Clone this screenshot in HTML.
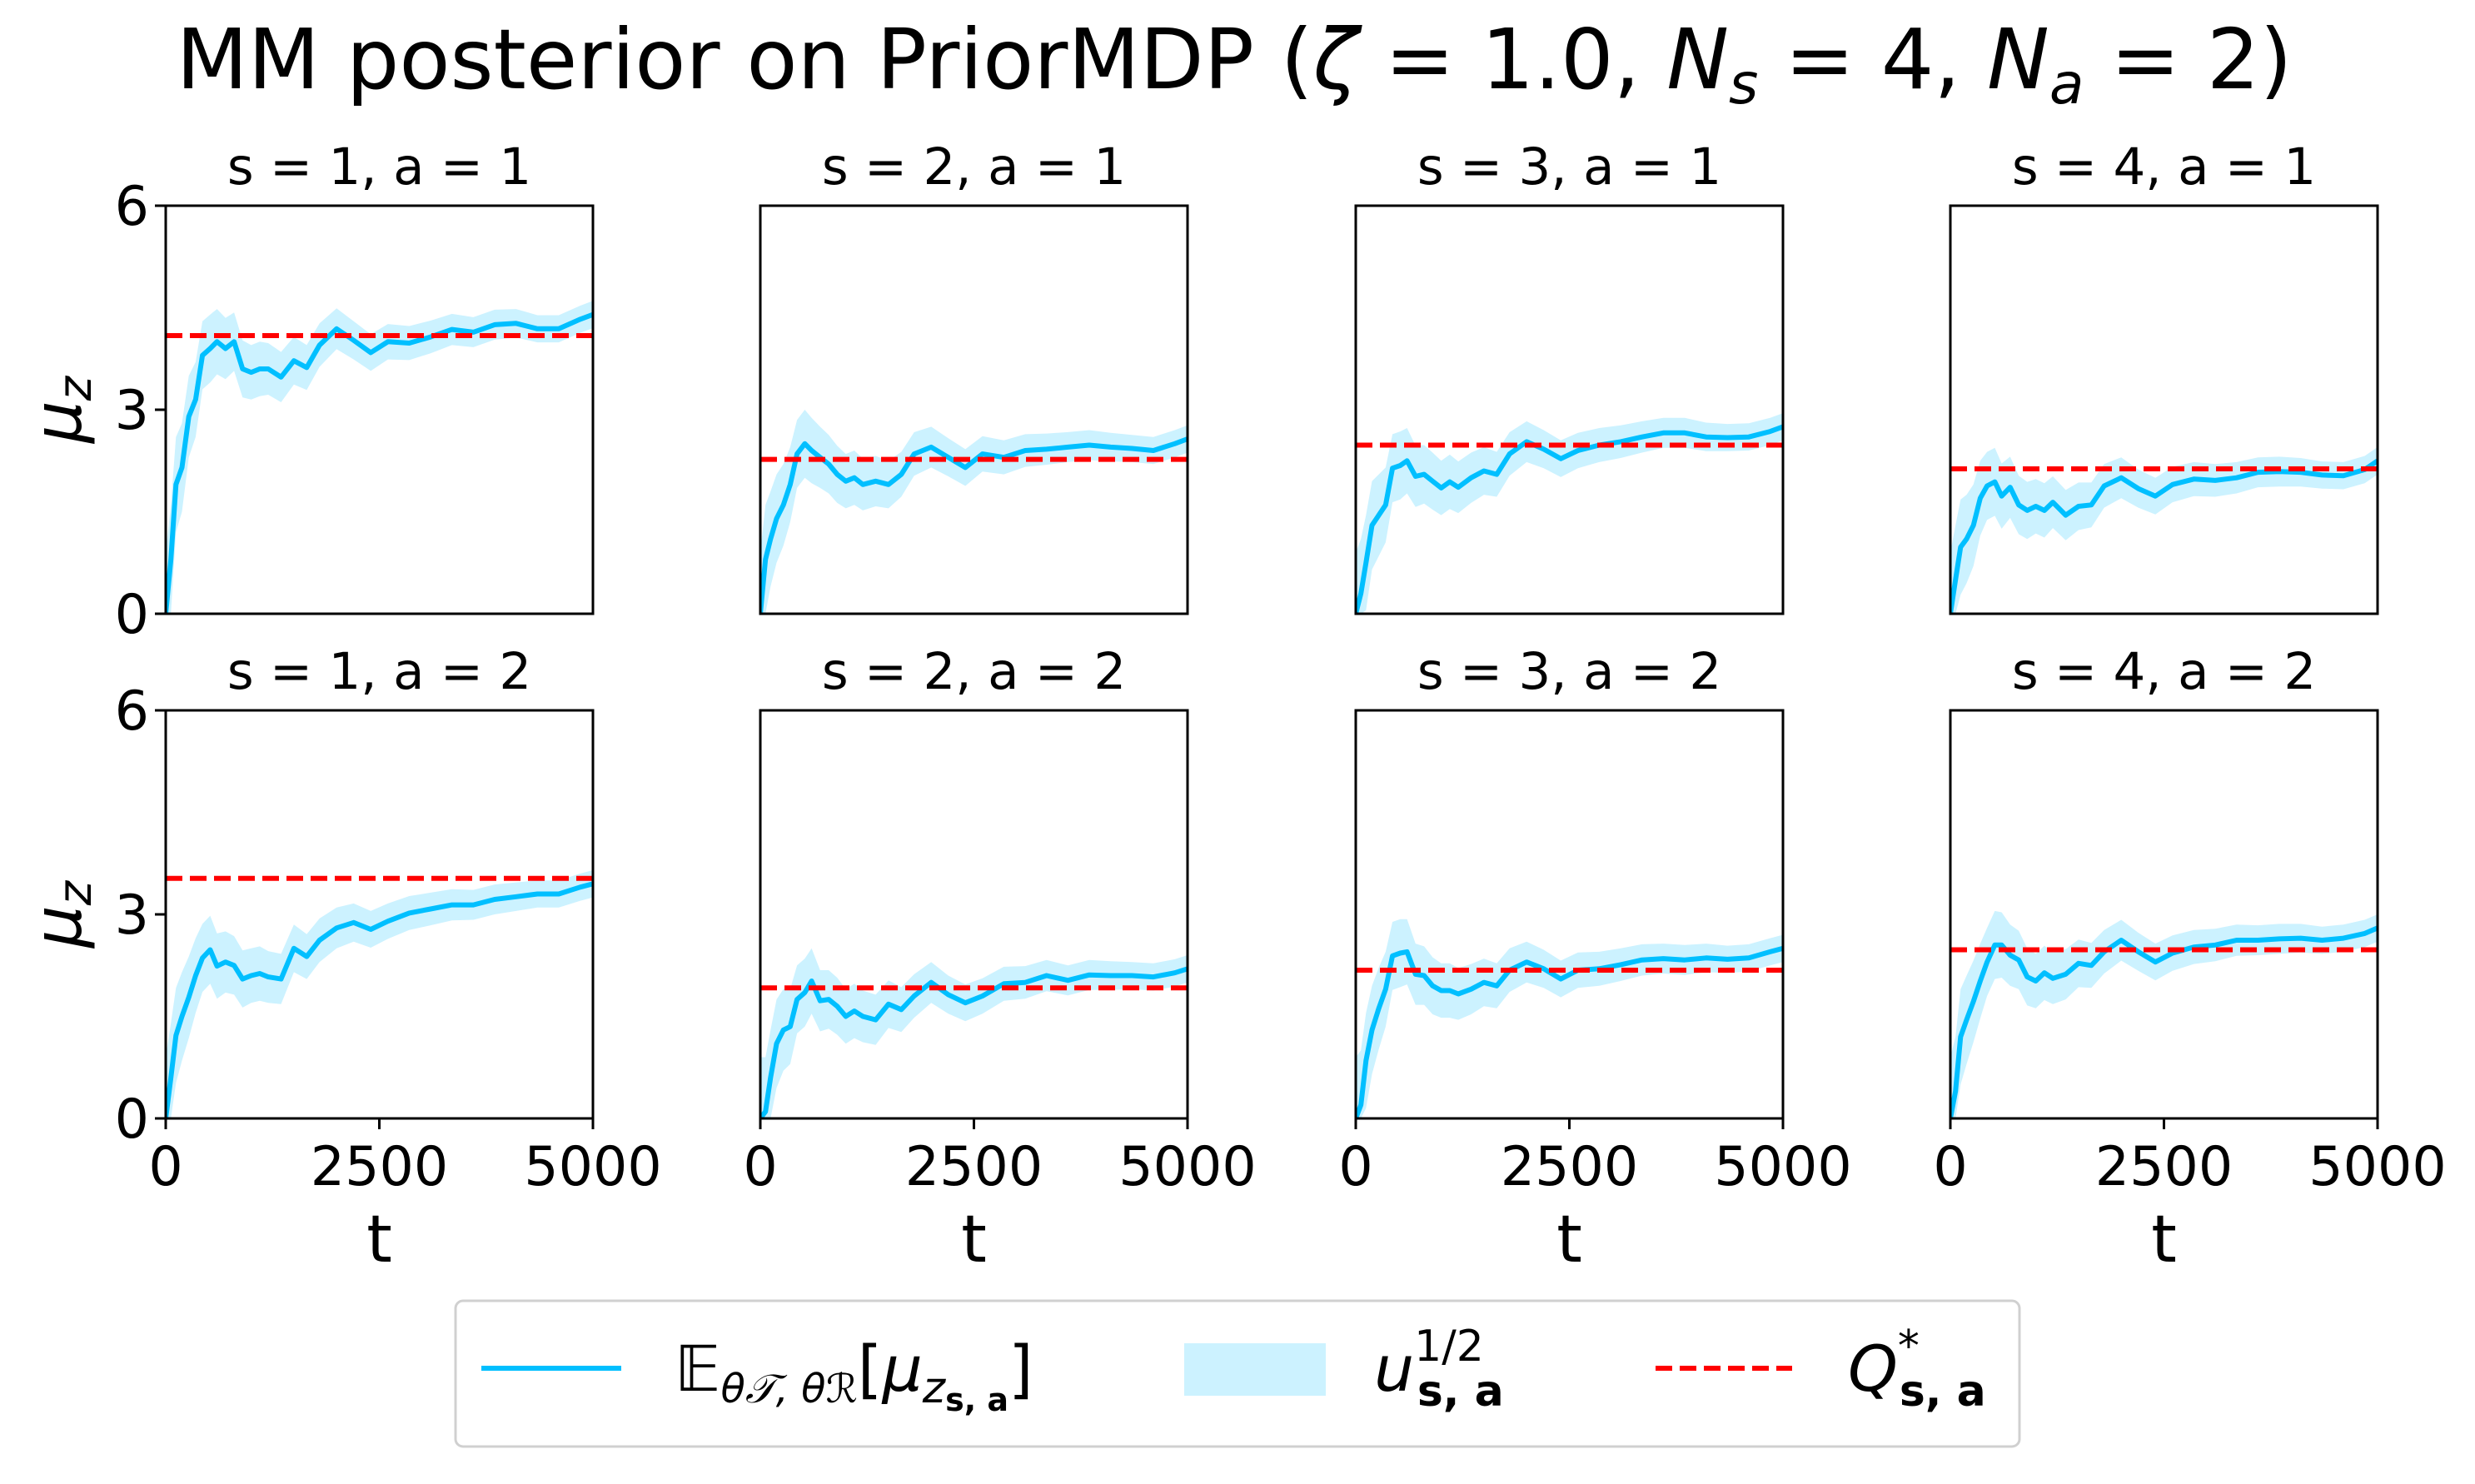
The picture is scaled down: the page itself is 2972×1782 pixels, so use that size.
<!DOCTYPE html>
<html><head><meta charset="utf-8"><style>
html,body{margin:0;padding:0;background:#fff;}
svg{display:block;font-family:"DejaVu Sans","Liberation Sans",sans-serif;}
</style></head><body>
<svg id="fig" width="2972" height="1782" viewBox="0 0 2972 1782" xmlns="http://www.w3.org/2000/svg">
<text x="1482" y="106" font-size="100" text-anchor="middle">MM posterior on PriorMDP (<tspan font-style="italic">ζ</tspan> = 1.0, <tspan font-style="italic">N</tspan><tspan font-size="68" font-style="italic" dy="18">s</tspan><tspan dy="-18"> = 4, </tspan><tspan font-style="italic">N</tspan><tspan font-size="68" font-style="italic" dy="18">a</tspan><tspan dy="-18"> = 2)</tspan></text>
<g id="panels"></g>
<g>
<rect x="547" y="1562" width="1878" height="175" rx="9" fill="#fff" stroke="#d0d0d0" stroke-width="3"/>
<line x1="578" y1="1643" x2="746" y2="1643" stroke="#00bfff" stroke-width="6"/>
<text x="810" y="1670" font-size="76" font-style="italic">𝔼<tspan font-size="48" dy="14">θ𝒯, θℛ</tspan><tspan dy="-14" font-style="normal">[</tspan>μ<tspan font-size="52" dy="14">z</tspan><tspan font-size="38" dy="10" font-weight="bold" font-style="normal">s, a</tspan><tspan dy="-24" font-style="normal">]</tspan></text>
<rect x="1422" y="1613" width="170" height="63" fill="#ccf2ff"/>
<text x="1650" y="1670" font-size="76" font-style="italic">u<tspan font-size="52" dy="-36" font-style="normal">1/2</tspan><tspan font-size="52" dx="-80" dy="54" font-weight="bold" font-style="normal">s, a</tspan></text>
<line x1="1988" y1="1643" x2="2152" y2="1643" stroke="#ff0000" stroke-width="6" stroke-dasharray="20,9"/>
<text x="2219" y="1670" font-size="76" font-style="italic">Q<tspan font-size="52" dy="-36" font-style="normal">*</tspan><tspan font-size="52" dx="-24" dy="54" font-weight="bold" font-style="normal">s, a</tspan></text>
</g>
</svg>
<script>
const tGrid = [0,60,120,190,270,350,430,520,600,700,800,900,1000,1100,1200,1350,1500,1650,1800,2000,2200,2400,2600,2850,3100,3350,3600,3850,4100,4350,4600,4850,5000];
const bandHalfWidth = [0.9,0.8,0.7,0.65,0.6,0.55,0.5,0.5,0.48,0.45,0.43,0.42,0.4,0.4,0.38,0.37,0.35,0.33,0.32,0.3,0.28,0.27,0.26,0.25,0.24,0.23,0.22,0.22,0.21,0.2,0.2,0.2,0.2];
const mean_s1_a1 = [0,0.8,1.9,2.15,2.9,3.15,3.8,3.9,4.0,3.9,4.0,3.6,3.55,3.6,3.6,3.48,3.72,3.62,3.95,4.19,4.02,3.84,4.0,3.98,4.07,4.18,4.14,4.25,4.27,4.19,4.19,4.33,4.4];
const mean_s2_a1 = [0,0.8,1.1,1.4,1.6,1.9,2.35,2.5,2.4,2.3,2.2,2.05,1.95,2.0,1.9,1.95,1.9,2.05,2.35,2.45,2.3,2.15,2.35,2.3,2.4,2.42,2.45,2.48,2.45,2.43,2.4,2.5,2.57];
const mean_s3_a1 = [0,0.3,0.75,1.3,1.45,1.6,2.14,2.18,2.25,2.02,2.05,1.95,1.85,1.94,1.86,2.0,2.1,2.05,2.35,2.53,2.42,2.28,2.4,2.48,2.53,2.6,2.66,2.66,2.6,2.59,2.6,2.68,2.75];
const mean_s4_a1 = [0,0.5,0.98,1.1,1.3,1.7,1.88,1.94,1.73,1.86,1.6,1.52,1.58,1.52,1.64,1.45,1.58,1.6,1.88,2.0,1.84,1.73,1.9,1.98,1.96,2.0,2.08,2.09,2.08,2.04,2.03,2.12,2.25];
const mean_s1_a2 = [0,0.6,1.22,1.5,1.78,2.1,2.36,2.48,2.24,2.3,2.25,2.05,2.1,2.13,2.08,2.05,2.5,2.38,2.62,2.8,2.88,2.78,2.9,3.02,3.08,3.14,3.14,3.22,3.26,3.3,3.3,3.4,3.45];
const mean_s2_a2 = [0,0.1,0.6,1.1,1.3,1.35,1.75,1.85,2.02,1.73,1.75,1.65,1.5,1.58,1.5,1.45,1.68,1.6,1.8,2.0,1.82,1.7,1.8,1.98,2.0,2.1,2.03,2.11,2.1,2.1,2.08,2.14,2.2];
const mean_s3_a2 = [0,0.2,0.85,1.3,1.62,1.9,2.39,2.43,2.45,2.12,2.1,1.95,1.88,1.88,1.83,1.9,2.0,1.95,2.18,2.3,2.2,2.05,2.18,2.2,2.26,2.33,2.35,2.33,2.36,2.34,2.36,2.45,2.5];
const mean_s4_a2 = [0,0.4,1.2,1.45,1.72,2.02,2.3,2.55,2.55,2.4,2.33,2.08,2.02,2.14,2.06,2.12,2.28,2.25,2.45,2.62,2.45,2.3,2.43,2.52,2.55,2.62,2.62,2.64,2.65,2.62,2.65,2.72,2.8];
const qStar = [4.09, 2.27, 2.48, 2.13, 3.53, 1.92, 2.18, 2.48];
const panelTitles = ["s = 1, a = 1","s = 2, a = 1","s = 3, a = 1","s = 4, a = 1","s = 1, a = 2","s = 2, a = 2","s = 3, a = 2","s = 4, a = 2"];
const yTicks = [0,3,6];
const xTicks = [0,2500,5000];
const xTickLabels = ["0","2500","5000"];
const yTickLabels = ["0","3","6"];

const means = [mean_s1_a1,mean_s2_a1,mean_s3_a1,mean_s4_a1,mean_s1_a2,mean_s2_a2,mean_s3_a2,mean_s4_a2];
const NS = "http://www.w3.org/2000/svg";
const root = document.getElementById('panels');
const colX = [199,913,1628,2342], rowY = [247,853], W = 513, H = 490;
function mk(tag, attrs, parent){const e=document.createElementNS(NS,tag);for(const k in attrs)e.setAttribute(k,attrs[k]);parent.appendChild(e);return e;}

for(let p=0;p<8;p++){
  const r=Math.floor(p/4), c=p%4, x0=colX[c], y0=rowY[r];
  const sx=t=>x0+t/5000*W, sy=v=>y0+H-v/6*H;
  const g=mk('g',{},root);
  
  
  const clipId='clip'+p;
  const cp=mk('clipPath',{id:clipId},g); mk('rect',{x:x0,y:y0,width:W,height:H},cp);
  const m=means[p];
  let up='',lo='';
  for(let i=0;i<tGrid.length;i++){up+=(i?'L':'M')+sx(tGrid[i]).toFixed(1)+','+sy(m[i]+bandHalfWidth[i]).toFixed(1);}
  for(let i=tGrid.length-1;i>=0;i--){lo+='L'+sx(tGrid[i]).toFixed(1)+','+sy(Math.max(0,m[i]-bandHalfWidth[i])).toFixed(1);}
  const band=mk('path',{d:up+lo+'Z',fill:'#ccf2ff','clip-path':'url(#'+clipId+')'},g);
  
  
  let d='';
  for(let i=0;i<tGrid.length;i++){d+=(i?'L':'M')+sx(tGrid[i]).toFixed(1)+','+sy(m[i]).toFixed(1);}
  const line=mk('path',{d:d,fill:'none',stroke:'#00bfff','stroke-width':6,'stroke-linejoin':'round','clip-path':'url(#'+clipId+')'},g);
  
  
  const q=mk('line',{x1:sx(0),x2:sx(5000),y1:sy(qStar[p]),y2:sy(qStar[p]),stroke:'#ff0000','stroke-width':6,'stroke-dasharray':'20,9'},g);
  
  
  const fr=mk('rect',{x:x0,y:y0,width:W,height:H,fill:'none',stroke:'#000','stroke-width':3},g);
  
  
  const tt=mk('text',{x:x0+W/2,y:y0-26,'font-size':61,'text-anchor':'middle'},g);
  tt.textContent=panelTitles[p];
  
  
  if(c===0){
    for(let i=0;i<yTicks.length;i++){
      const yy=sy(yTicks[i]);
      const tk=mk('line',{x1:x0-13,x2:x0,y1:yy,y2:yy,stroke:'#000','stroke-width':3},g);
      
      
      const tl=mk('text',{x:x0-20,y:yy+23,'font-size':65,'text-anchor':'end'},g);
      tl.textContent=yTickLabels[i];
      
      
    }
    const yl=mk('text',{x:0,y:0,'font-size':80,'font-style':'italic','text-anchor':'middle',transform:'translate(97,'+(y0+H/2)+') rotate(-90)'},g);
    yl.innerHTML='μ<tspan font-size="56" dy="12">z</tspan>';
    
    
  }
  if(r===1){
    for(let i=0;i<xTicks.length;i++){
      const xx=sx(xTicks[i]);
      const tk=mk('line',{x1:xx,x2:xx,y1:y0+H,y2:y0+H+13,stroke:'#000','stroke-width':3},g);
      
      
      const tl=mk('text',{x:xx,y:y0+H+80,'font-size':65,'text-anchor':'middle'},g);
      tl.textContent=xTickLabels[i];
      
      
    }
    const xl=mk('text',{x:x0+W/2,y:y0+H+172,'font-size':78,'text-anchor':'middle'},g);
    xl.textContent='t';
    
    
  }
}
</script>
</body></html>
